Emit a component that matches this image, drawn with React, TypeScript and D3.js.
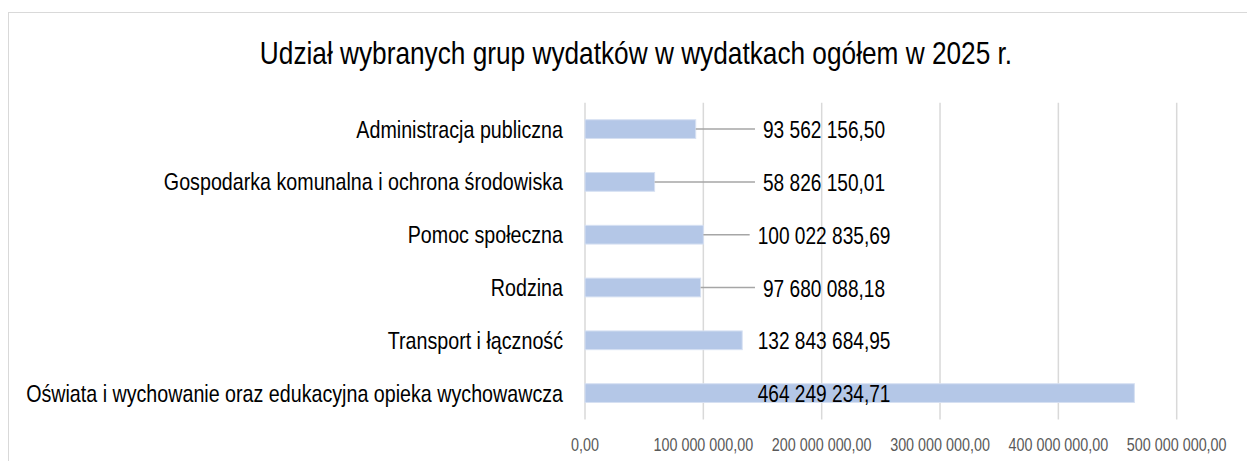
import React, { useEffect, useRef } from "react";
import * as d3 from "d3";

const title = "Udział wybranych grup wydatków w wydatkach ogółem w 2025 r.";
const categories = [
  "Administracja publiczna",
  "Gospodarka komunalna i ochrona środowiska",
  "Pomoc społeczna",
  "Rodzina",
  "Transport i łączność",
  "Oświata i wychowanie oraz edukacyjna opieka wychowawcza",
];
const values = [
  93562156.5,
  58826150.01,
  100022835.69,
  97680088.18,
  132843684.95,
  464249234.71,
];
const ticks = [0, 100000000, 200000000, 300000000, 400000000, 500000000];

const FONT = "'Liberation Sans', Arial, sans-serif";
const SQ = 0.82; // narrow face emulation

function fmt(v: number): string {
  const s = v.toFixed(2);
  const [intPart, dec] = s.split(".");
  const withSp = intPart.replace(/\B(?=(\d{3})+(?!\d))/g, " ");
  return withSp + "," + dec;
}

export default function App() {
  const ref = useRef<SVGSVGElement | null>(null);

  useEffect(() => {
    const svg = d3.select(ref.current);
    svg.selectAll("*").remove();
    const W = 1247;
    const H = 461;

    const x = d3.scaleLinear().domain([0, 500000000]).range([585, 1176.7]);
    const y = d3
      .scaleBand<string>()
      .domain(categories)
      .range([102.7, 419.5])
      .paddingInner(0.645)
      .paddingOuter(0.3225);

    const tr = (px: number, py: number) => `translate(${px},${py}) scale(${SQ},1)`;

    svg.append("rect").attr("x", 0).attr("y", 0).attr("width", W).attr("height", H).attr("fill", "#fff");
    svg
      .append("rect")
      .attr("x", 8.5)
      .attr("y", 12.5)
      .attr("width", 1400)
      .attr("height", 600)
      .attr("fill", "#fff")
      .attr("stroke", "#d9d9d9")
      .attr("stroke-width", 1);

    // title
    svg
      .append("text")
      .attr("transform", tr(636, 63.5))
      .attr("text-anchor", "middle")
      .attr("font-family", FONT)
      .attr("font-size", 32)
      .attr("fill", "#000")
      .text(title);

    // gridlines
    svg
      .append("g")
      .selectAll("line")
      .data(ticks)
      .join("line")
      .attr("x1", (d) => x(d))
      .attr("x2", (d) => x(d))
      .attr("y1", 102.7)
      .attr("y2", 419.5)
      .attr("stroke", "#d9d9d9")
      .attr("stroke-width", 1.5);

    // tick labels
    svg
      .append("g")
      .selectAll("text")
      .data(ticks)
      .join("text")
      .attr("transform", (d) => tr(x(d), 451))
      .attr("text-anchor", "middle")
      .attr("font-family", FONT)
      .attr("font-size", 17.5)
      .attr("fill", "#595959")
      .text((d) => fmt(d));

    // bars
    svg
      .append("g")
      .selectAll("rect")
      .data(values)
      .join("rect")
      .attr("x", x(0))
      .attr("y", (_d, i) => y(categories[i])!)
      .attr("width", (d) => x(d) - x(0))
      .attr("height", y.bandwidth())
      .attr("fill", "#b4c7e7")
      .attr("stroke", "#d6e0f2")
      .attr("stroke-width", 1);

    // category labels
    svg
      .append("g")
      .selectAll("text")
      .data(categories)
      .join("text")
      .attr("transform", (d) => tr(563, y(d)! + y.bandwidth() / 2 + 8.4))
      .attr("text-anchor", "end")
      .attr("font-family", FONT)
      .attr("font-size", 24)
      .attr("fill", "#000")
      .text((d) => d);

    // value labels
    const labelCx = x(202000000);
    const lg = svg.append("g");
    values.forEach((v, i) => {
      const cy = y(categories[i])! + y.bandwidth() / 2;
      const t = lg
        .append("text")
        .attr("transform", tr(labelCx, cy + 9))
        .attr("text-anchor", "middle")
        .attr("font-family", FONT)
        .attr("font-size", 23.3)
        .attr("fill", "#000")
        .text(fmt(v));
      const w = (t.node() as SVGTextElement).getComputedTextLength() * SQ;
      const left = labelCx - w / 2;
      const end = x(v);
      if (left - end > 30) {
        lg.insert("line", "text")
          .attr("x1", end)
          .attr("x2", left - 8)
          .attr("y1", cy)
          .attr("y2", cy)
          .attr("stroke", "#a6a6a6")
          .attr("stroke-width", 1.5);
      }
    });
  }, []);

  return (
    <svg
      ref={ref}
      width={1247}
      height={461}
      style={{ position: "absolute", left: 0, top: 0, display: "block" }}
    />
  );
}
